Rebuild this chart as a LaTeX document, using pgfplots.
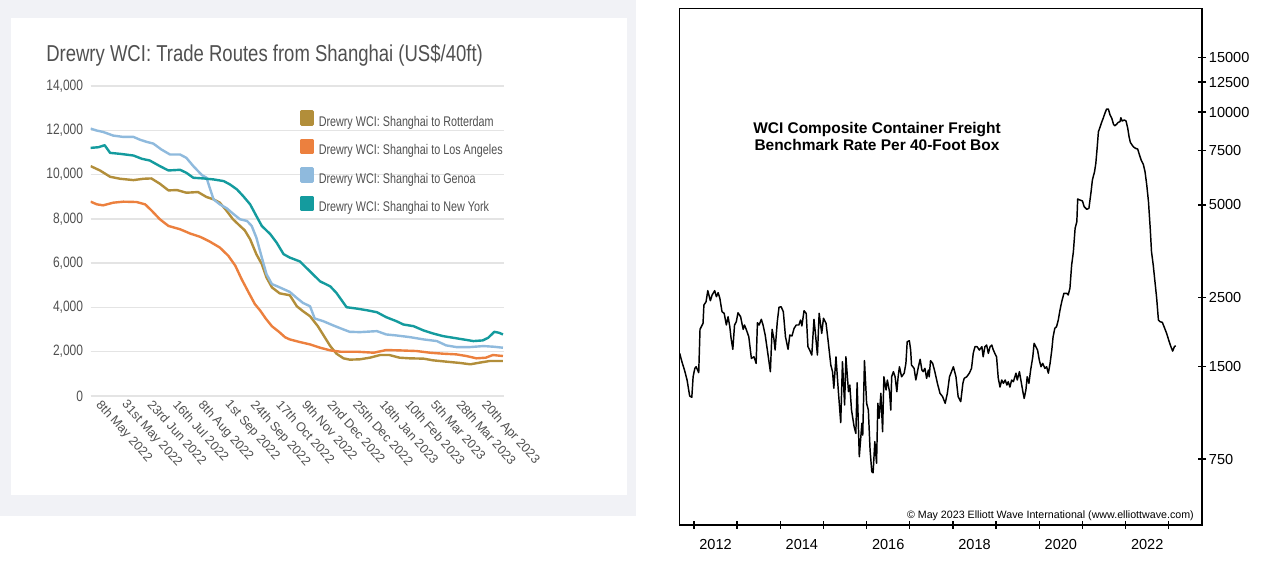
\documentclass[border=0pt]{standalone}
\usepackage{pgfplots}
\pgfplotsset{compat=1.18}
\usepackage{fontspec}
\setmainfont{Liberation Sans}
\usepackage{graphicx}
\definecolor{panelgray}{RGB}{241,242,246}
\definecolor{rot}{RGB}{178,142,58}
\definecolor{la}{RGB}{236,128,62}
\definecolor{gen}{RGB}{143,186,221}
\definecolor{ny}{RGB}{20,155,158}
\definecolor{gridc}{RGB}{228,228,228}
\definecolor{txtc}{RGB}{80,80,80}
\begin{document}
\begin{tikzpicture}
\useasboundingbox (0pt,0pt) rectangle (961.5pt,424.5pt);
\fill[panelgray] (0pt,37.5pt) rectangle (477pt,424.5pt);
\fill[white] (8.25pt,53.25pt) rectangle (470.25pt,411pt);
\node[anchor=west,inner sep=0pt,text=txtc,font=\fontsize{17.25pt}{20pt}\selectfont] at (34.5pt,383.25pt) {\scalebox{0.805}[1]{Drewry WCI: Trade Routes from Shanghai (US\$/40ft)}};
\begin{axis}[
  at={(68.0pt,127.5pt)}, anchor=south west, scale only axis,
  width=309.8pt, height=232.5pt,
  xmin=0, xmax=53.1, ymin=0, ymax=14000,
  axis line style={draw=none},
  major tick length=0pt,
  ytick={0,2000,...,14000},
  ymajorgrids, grid style={gridc, line width=1.1pt},
  scaled y ticks=false,
  /pgf/number format/1000 sep={,},
  /pgf/number format/assume math mode=true,
  yticklabel={\scalebox{0.8}[1]{\pgfmathprintnumber{\tick}}},
  yticklabel style={font=\fontsize{11.25pt}{13pt}\selectfont, text=txtc, anchor=east, inner sep=0pt, xshift=-5.5pt},
  xtick={2.43,5.71,9.0,12.29,15.57,19.0,22.29,25.57,28.86,32.14,35.43,38.86,42.14,45.43,48.71,52.0},
  xticklabels={8th May 2022,31st May 2022,23rd Jun 2022,16th Jul 2022,8th Aug 2022,1st Sep 2022,24th Sep 2022,17th Oct 2022,9th Nov 2022,2nd Dec 2022,25th Dec 2022,18th Jan 2023,10th Feb 2023,5th Mar 2023,28th Mar 2023,20th Apr 2023},
  xticklabel style={rotate=-48, anchor=north west, inner sep=0pt, yshift=-5.25pt, xshift=-2pt, font=\fontsize{9.5pt}{11pt}\selectfont, text=txtc},
  legend image code/.code={\fill[#1] (0pt,-1.3pt) rectangle (8.25pt,8.45pt);},
  legend style={at={(0.507,0.923)}, anchor=north west, draw=none, fill=none, inner sep=0pt,
    row sep=7.2pt, column sep=3.75pt, font=\fontsize{10.5pt}{12pt}\selectfont, text=txtc,
    nodes={inner sep=0pt, text height=7.5pt, text depth=2.25pt}},
  legend cell align=left,
  every axis plot/.append style={line join=round},
]
\addplot[rot, line width=1.8pt] table {
0 10380
1.2 10185
2.5 9900
3.8 9810
5.5 9750
6.8 9810
7.8 9825
8.9 9585
10.0 9285
11.1 9300
12.3 9180
13.8 9210
14.9 8985
15.8 8880
16.6 8730
17.5 8355
18.3 7980
19.2 7680
19.8 7485
20.5 7080
21.3 6405
22.0 5955
22.6 5355
23.3 4905
24.3 4635
25.6 4550
26.5 4053
27.3 3828
28.2 3603
29.2 3154
30.0 2704
30.8 2255
31.6 1910
32.5 1701
33.3 1641
34.6 1656
35.9 1730
37.2 1850
38.4 1850
39.7 1730
41.0 1701
42.8 1686
44.0 1611
45.7 1551
47.5 1491
48.8 1431
50.0 1506
51.3 1581
53.0 1581
};
\addlegendentry{\scalebox{0.77}[1]{Drewry WCI: Shanghai to Rotterdam}}
\addplot[la, line width=1.8pt] table {
0 8775
0.8 8655
1.6 8610
2.9 8730
4.2 8775
5.9 8760
7.0 8655
7.8 8385
8.9 7980
10.0 7680
11.5 7530
12.8 7335
14.1 7185
15.3 6975
16.6 6705
17.7 6330
18.6 5880
19.4 5280
20.3 4680
21.1 4155
21.8 3855
22.5 3500
23.3 3150
24.2 2900
25.0 2650
25.6 2555
26.9 2435
28.2 2330
29.5 2180
30.8 2060
32.1 2000
34.2 2000
36.4 1955
38.0 2075
39.7 2060
41.9 2030
43.6 1955
45.3 1910
47.0 1880
48.3 1805
49.6 1701
50.8 1730
51.7 1850
53.0 1805
};
\addlegendentry{\scalebox{0.77}[1]{Drewry WCI: Shanghai to Los Angeles}}
\addplot[gen, line width=1.8pt] table {
0 12075
0.8 11985
1.6 11925
2.9 11760
4.2 11700
5.5 11700
6.3 11580
7.2 11475
8.05 11400
9.1 11130
10.2 10905
11.5 10905
12.3 10755
13.2 10380
14.3 9975
14.9 9855
15.3 9405
15.8 8880
16.6 8655
17.5 8475
18.3 8235
19.2 7980
20.1 7905
20.7 7680
21.3 7155
22.0 6255
22.6 5505
23.3 5055
24.3 4905
25.6 4700
26.5 4427
27.3 4202
28.2 4053
28.8 3500
29.9 3379
31.2 3184
32.5 3004
33.3 2899
34.6 2884
36.8 2929
38.0 2779
39.3 2734
41.0 2660
42.8 2555
44.5 2480
45.7 2285
47.0 2210
48.8 2210
50.5 2255
51.8 2225
53.0 2180
};
\addlegendentry{\scalebox{0.77}[1]{Drewry WCI: Shanghai to Genoa}}
\addplot[ny, line width=1.8pt] table {
0 11205
1.0 11235
1.8 11325
2.5 10980
3.8 10935
5.5 10860
6.6 10710
7.6 10635
8.9 10380
10.0 10185
11.5 10215
12.3 10080
13.2 9855
14.5 9825
15.8 9780
17.1 9705
17.9 9555
18.8 9330
19.6 9030
20.5 8655
21.3 8130
22.0 7680
23.1 7305
23.9 6930
24.8 6405
25.6 6250
26.9 6075
28.2 5625
29.5 5176
30.8 4951
31.6 4652
32.9 4008
34.2 3948
35.5 3873
36.8 3783
38.0 3558
39.3 3379
40.2 3229
41.5 3154
42.8 2959
44.0 2824
45.3 2704
46.6 2629
47.9 2555
49.2 2480
50.4 2510
51.1 2629
51.9 2899
52.5 2854
53.0 2779
};
\addlegendentry{\scalebox{0.77}[1]{Drewry WCI: Shanghai to New York}}
\end{axis}
\begin{axis}[
  at={(509.6pt,30.75pt)}, anchor=south west, scale only axis,
  width=391.9pt, height=387.5pt,
  xmin=2011.664, xmax=2023.77,
  ymode=log, ymin=458.5, ymax=21685,
  axis line style={black, line width=1.1pt},
  tick style={black, line width=1pt},
  major tick length=6pt, tick align=center,
  xtick pos=bottom, ytick pos=right,
  xtick={2012,...,2023}, xticklabels={},
  extra x ticks={2012.5,2014.5,2016.5,2018.5,2020.5,2022.5},
  extra x tick labels={2012,2014,2016,2018,2020,2022},
  extra x tick style={major tick length=0pt, xticklabel style={font=\fontsize{10.9pt}{12pt}\selectfont, inner sep=0pt, anchor=north, yshift=-10.5pt}},
  ytick={750,1500,2500,5000,7500,10000,12500,15000},
  yticklabels={750,1500,2500,5000,7500,10000,12500,15000},
  yticklabel style={font=\fontsize{10.9pt}{12pt}\selectfont, anchor=west, inner sep=0pt, xshift=2pt},
  minor tick num=0, yminorticks=false,
]
\addplot[black, line width=1.1pt, line join=round] table {
2011.67 1650
2011.72 1551
2011.78 1458
2011.84 1353
2011.90 1201
2011.95 1189
2011.98 1386
2012.02 1476
2012.05 1494
2012.11 1429
2012.14 1975
2012.21 2066
2012.23 2368
2012.28 2427
2012.32 2635
2012.38 2445
2012.42 2552
2012.48 2635
2012.52 2520
2012.56 2596
2012.60 2489
2012.65 2252
2012.70 2225
2012.75 2040
2012.79 2170
2012.83 2014
2012.86 1847
2012.90 1701
2012.94 2040
2012.98 2090
2013.02 2235
2013.08 2170
2013.14 1975
2013.17 2040
2013.21 1975
2013.27 1869
2013.33 1590
2013.39 1609
2013.44 1532
2013.47 2075
2013.51 2040
2013.56 2128
2013.60 2040
2013.65 1893
2013.70 1692
2013.77 1440
2013.81 1975
2013.85 1847
2013.88 1692
2013.93 2090
2013.97 2328
2014.02 2338
2014.07 2252
2014.12 1869
2014.18 1701
2014.22 1893
2014.27 1879
2014.32 1990
2014.37 2040
2014.43 2040
2014.47 2117
2014.50 2025
2014.55 2269
2014.60 2225
2014.64 1735
2014.68 1692
2014.73 1630
2014.78 2128
2014.81 1940
2014.86 1630
2014.90 2225
2014.96 1917
2015.00 2145
2015.06 2066
2015.11 1801
2015.17 1513
2015.21 1440
2015.24 1272
2015.29 1609
2015.34 1272
2015.40 984
2015.44 1551
2015.49 1123
2015.52 1609
2015.58 1240
2015.61 1303
2015.65 1081
2015.71 955
2015.75 908
2015.78 1326
2015.83 763
2015.89 979
2015.91 897
2015.95 1563
2016.00 1137
2016.04 1081
2016.08 802
2016.12 682
2016.15 677
2016.19 854
2016.23 727
2016.26 1137
2016.29 1017
2016.33 1225
2016.37 920
2016.40 1386
2016.45 1256
2016.48 1353
2016.53 1240
2016.56 1081
2016.58 1386
2016.62 1440
2016.66 1386
2016.70 1240
2016.73 1386
2016.76 1494
2016.81 1386
2016.87 1424
2016.91 1532
2016.94 1801
2016.99 1814
2017.02 1692
2017.04 1513
2017.10 1476
2017.14 1353
2017.20 1494
2017.24 1579
2017.28 1458
2017.31 1440
2017.35 1476
2017.39 1370
2017.43 1458
2017.45 1386
2017.48 1563
2017.53 1532
2017.58 1440
2017.64 1320
2017.70 1225
2017.76 1195
2017.82 1137
2017.87 1225
2017.92 1386
2018.01 1494
2018.07 1386
2018.12 1195
2018.18 1151
2018.23 1320
2018.26 1370
2018.32 1386
2018.38 1424
2018.43 1476
2018.47 1651
2018.51 1735
2018.56 1735
2018.61 1692
2018.67 1735
2018.70 1609
2018.74 1735
2018.78 1757
2018.82 1651
2018.86 1735
2018.90 1757
2018.93 1701
2018.97 1651
2019.01 1609
2019.05 1370
2019.09 1284
2019.13 1353
2019.17 1320
2019.21 1353
2019.25 1303
2019.28 1336
2019.32 1284
2019.36 1353
2019.40 1336
2019.46 1424
2019.49 1353
2019.54 1440
2019.58 1336
2019.62 1240
2019.65 1179
2019.69 1256
2019.72 1386
2019.76 1320
2019.80 1458
2019.85 1609
2019.88 1779
2019.92 1735
2019.96 1692
2020.00 1571
2020.04 1494
2020.08 1532
2020.13 1476
2020.17 1494
2020.21 1424
2020.25 1532
2020.29 1692
2020.32 1869
2020.36 1990
2020.40 2014
2020.44 2117
2020.48 2281
2020.52 2427
2020.57 2584
2020.64 2584
2020.67 2552
2020.71 2683
2020.75 3192
2020.79 3525
2020.83 4198
2020.87 4411
2020.89 5225
2020.94 5186
2021.00 5148
2021.04 4933
2021.10 4838
2021.15 4874
2021.20 5516
2021.23 6019
2021.28 6404
2021.31 6818
2021.34 7625
2021.37 8630
2021.41 8956
2021.45 9302
2021.48 9540
2021.52 9903
2021.56 10226
2021.60 10226
2021.64 9779
2021.68 9540
2021.72 9124
2021.75 9025
2021.79 9124
2021.83 9263
2021.87 9302
2021.89 9582
2021.92 9351
2021.97 9421
2022.01 9351
2022.05 8852
2022.08 8314
2022.11 7975
2022.14 7854
2022.18 7715
2022.23 7625
2022.28 7585
2022.31 7344
2022.36 6989
2022.41 6765
2022.45 6404
2022.49 5798
2022.53 5120
2022.57 4198
2022.60 3525
2022.64 3192
2022.68 2818
2022.72 2489
2022.76 2117
2022.80 2090
2022.85 2081
2022.90 1999
2022.95 1917
2023.01 1801
2023.05 1735
2023.09 1679
2023.13 1735
2023.16 1748
};
\end{axis}
\node[align=center, inner sep=0pt, font=\bfseries\fontsize{11.6pt}{12.75pt}\selectfont] at (657.75pt,322.1pt) {WCI Composite Container Freight\\Benchmark Rate Per 40-Foot Box};
\node[anchor=east, inner sep=0pt, font=\fontsize{8pt}{9pt}\selectfont] at (895.5pt,37.5pt) {\textcopyright\ May 2023 Elliott Wave International (www.elliottwave.com)};
\end{tikzpicture}
\end{document}
